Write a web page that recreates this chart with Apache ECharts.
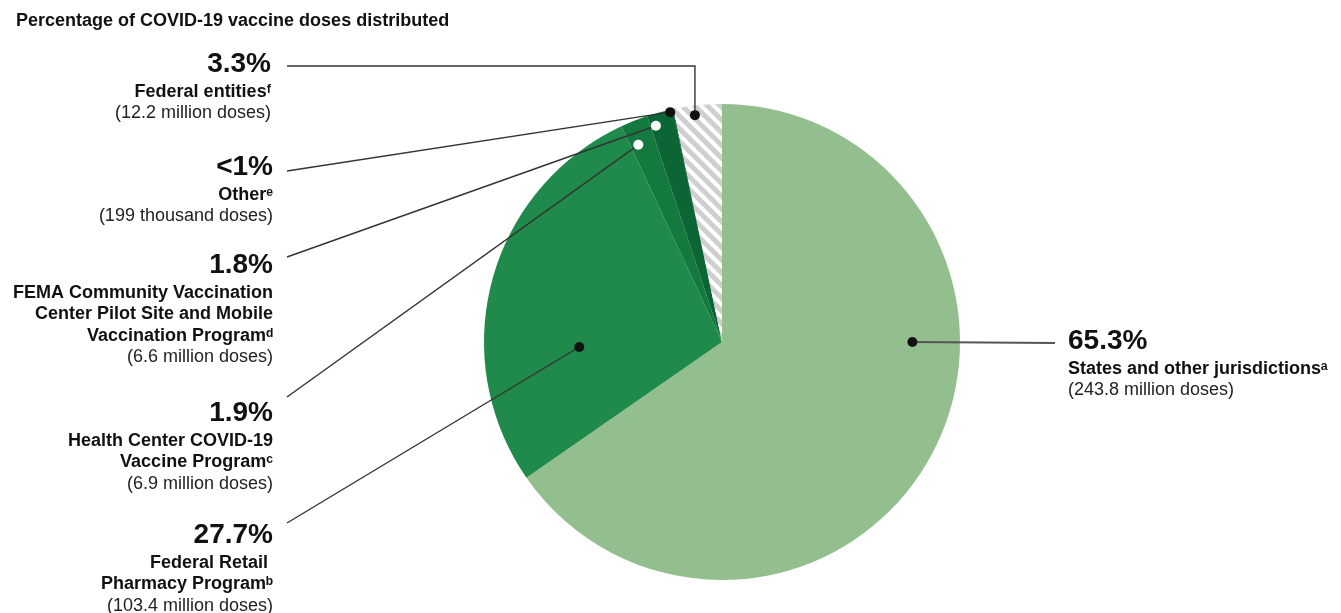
<!DOCTYPE html>
<html>
<head>
<meta charset="utf-8">
<script src="https://cdn.jsdelivr.net/npm/echarts@6/dist/echarts.min.js"></script>
<style>
html,body{margin:0;padding:0;background:#fff;}
#chart{width:1341px;height:613px;}
</style>
</head>
<body>
<div id="chart"></div>
<script>
// ---- data ----
const titleText = 'Percentage of COVID-19 vaccine doses distributed';
const categories = ['States and other jurisdictions', 'Federal Retail Pharmacy Program', 'Health Center COVID-19 Vaccine Program',
  'FEMA Community Vaccination Center Pilot Site and Mobile Vaccination Program', 'Other', 'Federal entities'];
const dosesMillions = [243.8, 103.4, 6.9, 6.6, 0.199, 12.2];
const pctLabels = ['65.3%', '27.7%', '1.9%', '1.8%', '<1%', '3.3%'];
const nameLines = [
  ['States and other jurisdictions\u1d43'],
  ['Federal Retail ', 'Pharmacy Program\u1d47'],
  ['Health Center COVID-19', 'Vaccine Program\u1d9c'],
  ['FEMA Community Vaccination', 'Center Pilot Site and Mobile', 'Vaccination Program\u1d48'],
  ['Other\u1d49'],
  ['Federal entities\u1da0']
];
const doseLabels = ['(243.8 million doses)', '(103.4 million doses)', '(6.9 million doses)', '(6.6 million doses)', '(199 thousand doses)', '(12.2 million doses)'];
const sliceColors = ['#93bf8f', '#1f8a4b', '#14793f', '#0b6535', '#053f21', '#cfcfcf'];

// ---- layout config (positions, not data) ----
const CX = 722, CY = 342, R = 238;
// anchor dots: [radius fraction, angle in degrees clockwise from 12 o'clock]
const anchors = [[0.8, 90], [0.6, 268], [0.9, 337], [0.95, 343], [0.99, 347.3], [0.96, 353.2]];
const dotFill = ['#111', '#111', '#fff', '#fff', '#111', '#111'];
const labelPos = [ // x, top y, align
  [1068, 325, 'left'], [273, 519, 'right'], [273, 397, 'right'], [273, 249, 'right'], [273, 151, 'right'], [271, 48, 'right']
];
const lineEnds = [[1055, 343], [287, 523], [287, 397], [287, 257], [287, 171], [287, 66]];
const FONT = 'Liberation Sans, Arial, DejaVu Sans';

function richFor(align) {
  return {
    p: {fontSize: 28, fontWeight: 'bold', color: '#111', lineHeight: 33, align: align, fontFamily: FONT},
    n: {fontSize: 18, fontWeight: 'bold', color: '#111', lineHeight: 21.5, align: align, fontFamily: FONT},
    d: {fontSize: 18, color: '#222', lineHeight: 22, align: align, fontFamily: FONT}
  };
}

const chart = echarts.init(document.getElementById('chart'), null, {renderer: 'canvas'});

const pieData = categories.map((c, i) => {
  const item = {name: c, value: dosesMillions[i], itemStyle: {color: sliceColors[i]}};
  if (i === 5) {
    item.itemStyle.decal = {
      color: '#ffffff', symbol: 'rect', dashArrayX: [1, 0], dashArrayY: [3.5, 5], rotation: Math.PI / 4
    };
  }
  return item;
});

const dotData = anchors.map((a, i) => ({
  value: [a[0], a[1]],
  itemStyle: {color: dotFill[i], opacity: 1},
  label: {
    show: true,
    align: labelPos[i][2],
    rich: richFor(labelPos[i][2]),
    formatter: () => ['{p|' + pctLabels[i] + '}'].concat(nameLines[i].map(s => '{n|' + s + '}')).concat(['{d|' + doseLabels[i] + '}']).join('\n')
  }
}));

chart.setOption({
  backgroundColor: '#ffffff',
  animation: false,
  title: {
    text: titleText, left: 11, top: 7,
    textStyle: {fontSize: 18, fontWeight: 'bold', color: '#111', fontFamily: FONT}
  },
  polar: {center: [CX, CY], radius: R},
  angleAxis: {type: 'value', min: 0, max: 360, startAngle: 90, clockwise: true, show: false},
  radiusAxis: {type: 'value', min: 0, max: 1, show: false},
  series: [
    {
      type: 'pie', center: [CX, CY], radius: R, startAngle: 90, clockwise: true,
      minAngle: 0, avoidLabelOverlap: false, label: {show: false}, labelLine: {show: false},
      emphasis: {disabled: true}, silent: true, z: 1,
      data: pieData
    },
    {
      type: 'scatter', coordinateSystem: 'polar', symbol: 'circle', symbolSize: 10, z: 5,
      silent: true,
      itemStyle: {opacity: 1},
      data: dotData,
      labelLayout: function (params) {
        const i = params.dataIndex;
        return {x: labelPos[i][0], y: labelPos[i][1], align: labelPos[i][2], verticalAlign: 'top'};
      }
    }
  ]
});

// leader lines from the library's polar scale to each label
const leaders = anchors.map((a, i) => {
  const p = chart.convertToPixel({polarIndex: 0}, [a[0], a[1]]);
  const e = lineEnds[i];
  const pts = (i === 5) ? [p, [p[0], e[1]], e] : [p, e];
  return {
    type: 'polyline', z: 4, silent: true,
    shape: {points: pts},
    style: {stroke: i === 0 ? '#555' : '#333', lineWidth: i === 0 ? 2.2 : 1.4, fill: null}
  };
});
chart.setOption({graphic: leaders});
</script>
</body>
</html>
